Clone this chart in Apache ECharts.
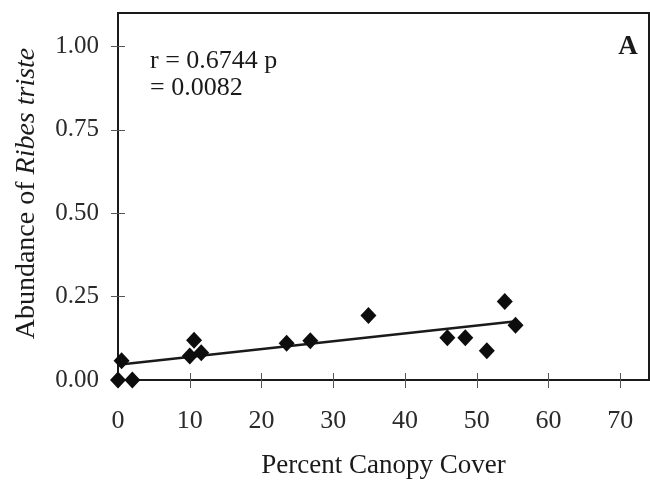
<!DOCTYPE html>
<html>
<head>
<meta charset="utf-8">
<script src="https://cdn.jsdelivr.net/npm/echarts@6/dist/echarts.min.js"></script>
<style>
  html, body { margin: 0; padding: 0; background: #fff; }
  #chart { width: 650px; height: 484px; }
</style>
</head>
<body>
<div id="chart"></div>
<script>
// Data
const canopyCover = [0, 2.0, 0.5, 10.0, 10.6, 11.6, 23.5, 26.8, 34.9, 45.9, 48.4, 51.4, 53.9, 55.4];
const abundance   = [0, 0, 0.058, 0.072, 0.119, 0.082, 0.110, 0.118, 0.193, 0.127, 0.127, 0.088, 0.235, 0.164];
// Regression line end points as drawn in the figure
const fitX = [0, 55.5];
const fitY = [0.046, 0.176];
const xTicks = [0, 10, 20, 30, 40, 50, 60, 70];
const yTicks = [0, 0.25, 0.5, 0.75, 1.0];
const statLines = ['r = 0.6744 p', '= 0.0082'];
const panelLabel = 'A';

const points = canopyCover.map((x, i) => [x, abundance[i]]);
const fitLine = fitX.map((x, i) => [x, fitY[i]]);

const serif = '"Liberation Serif", "Times New Roman", serif';
const ink = '#1a1a1a';

const chart = echarts.init(document.getElementById('chart'), null, { renderer: 'canvas' });
chart.setOption({
  backgroundColor: '#ffffff',
  animation: false,
  grid: {
    left: 118, top: 13, right: 1, bottom: 100.5,
    show: true, borderColor: ink, borderWidth: 2, backgroundColor: 'transparent'
  },
  xAxis: {
    type: 'value', min: 0, max: 74, offset: -7,
    axisLine: { show: false, onZero: false },
    axisTick: { show: true, inside: false, length: 15, customValues: xTicks,
      lineStyle: { color: '#555', width: 1 } },
    axisLabel: { customValues: xTicks, margin: 35, fontFamily: serif, fontSize: 26, color: '#2a2a2a' },
    splitLine: { show: false },
    name: 'Percent Canopy Cover', nameLocation: 'middle', nameGap: 79,
    nameTextStyle: { fontFamily: serif, fontSize: 27, color: ink }
  },
  yAxis: {
    type: 'value', min: 0, max: 1.1, offset: -7,
    axisLine: { show: false, onZero: false },
    axisTick: { show: true, inside: false, length: 14, customValues: yTicks,
      lineStyle: { color: '#555', width: 1 } },
    axisLabel: { customValues: yTicks, margin: 26, fontFamily: serif, fontSize: 25, color: '#2a2a2a',
      formatter: v => v.toFixed(2) },
    splitLine: { show: false },
    name: 'Abundance of {i|Ribes triste}', nameLocation: 'middle', nameGap: 84,
    nameTextStyle: { fontFamily: serif, fontSize: 28, color: ink, padding: [0, 0, 0, 6],
      rich: { i: { fontFamily: serif, fontSize: 28, fontStyle: 'italic', color: ink } } }
  },
  series: [
    {
      type: 'line', data: fitLine, showSymbol: false, symbol: 'none',
      lineStyle: { color: ink, width: 2.5 }, z: 3
    },
    {
      type: 'scatter', data: points, symbol: 'diamond', symbolSize: [16, 17],
      itemStyle: { color: '#0d0d0d', opacity: 1 }, z: 4
    }
  ],
  graphic: [
    {
      type: 'text', left: 150, top: 48,
      style: { text: statLines.join('\n'), fontFamily: serif, fontSize: 26, lineHeight: 27, fill: ink }
    },
    {
      type: 'text', x: 628, y: 47,
      style: { text: panelLabel, fontFamily: serif, fontSize: 27, fontWeight: 'bold', fill: ink,
        align: 'center', verticalAlign: 'middle' }
    }
  ]
});
</script>
</body>
</html>
